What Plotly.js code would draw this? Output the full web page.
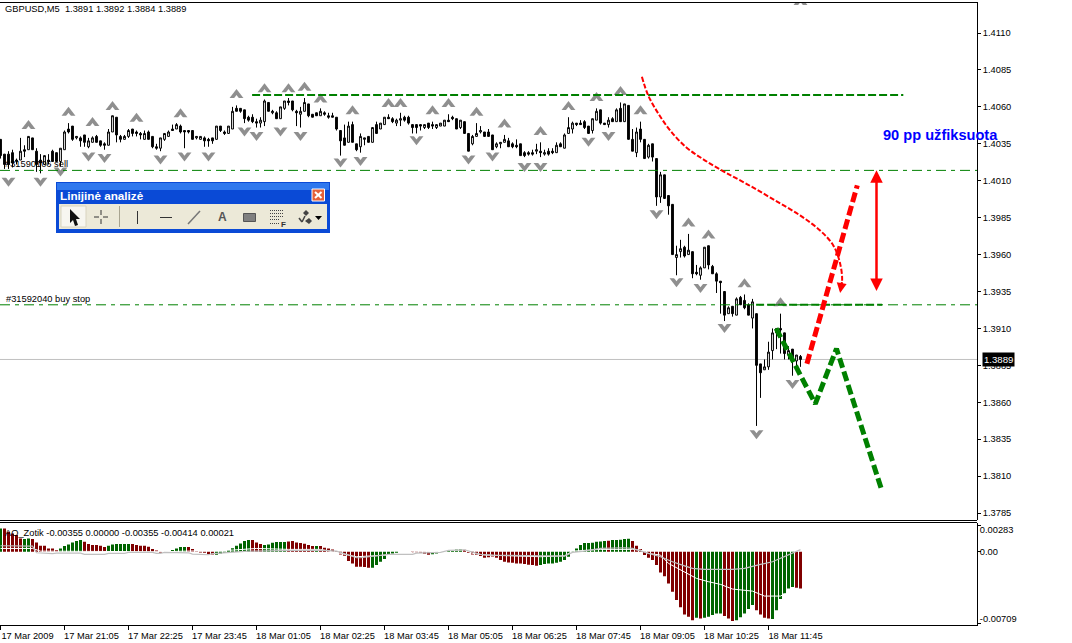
<!DOCTYPE html>
<html><head><meta charset="utf-8">
<script src="https://cdn.plot.ly/plotly-3.0.1.min.js"></script>
<style>html,body{margin:0;padding:0;background:#fff;overflow:hidden}#c{width:1072px;height:643px}</style>
</head><body><div id="c"></div>
<script>
// Prices are stored as pips above 1.0000 (4038 = 1.4038)
const openPips=[4038,4028,4028,4029,4023,4024,4031,4031,4039,4030,
4024,4021,4024,4030,4029,4023,4031,4045,4047,4039,
4039,4041,4033,4036,4040,4037,4035,4034,4043,4053,
4040,4038,4040,4045,4043,4042,4038,4043,4040,4033,
4032,4038,4040,4045,4045,4047,4044,4044,4044,4039,
4038,4039,4038,4039,4038,4047,4043,4042,4045,4059,
4059,4058,4053,4053,4050,4049,4050,4063,4056,4056,
4052,4059,4064,4064,4057,4055,4057,4062,4055,4056,
4054,4056,4054,4054,4053,4044,4039,4036,4048,4035,
4033,4038,4040,4036,4048,4045,4048,4053,4052,4049,
4051,4053,4053,4048,4048,4048,4046,4049,4048,4046,
4047,4047,4051,4053,4052,4046,4050,4042,4035,4040,
4043,4043,4043,4041,4033,4035,4036,4037,4035,4034,
4035,4029,4029,4029,4030,4030,4028,4030,4030,4029,
4035,4032,4042,4045,4049,4049,4050,4047,4044,4051,
4058,4049,4048,4052,4050,4059,4050,4061,4038,4029,
4045,4038,4026,4035,4025,3999,4014,4000,3994,3958,
3962,3965,3960,3962,3948,3946,3951,3966,3952,3947,
3942,3935,3920,3925,3919,3931,3929,3926,3917,3920,
3886,3882,3884,3895,3907,3910,3907,3892,3896,3888,3891];
const highPips=[4038,4028,4030,4031,4025,4039,4034,4040,4039,4032,
4028,4027,4028,4031,4029,4032,4044,4049,4047,4040,
4040,4041,4039,4040,4041,4037,4036,4045,4054,4053,
4041,4041,4045,4045,4044,4043,4044,4044,4040,4035,
4039,4042,4044,4048,4049,4048,4044,4044,4044,4040,
4040,4040,4039,4039,4047,4047,4044,4047,4060,4061,
4059,4058,4054,4055,4052,4053,4065,4063,4058,4057,
4060,4064,4066,4064,4058,4060,4066,4062,4055,4056,
4059,4057,4056,4056,4053,4044,4048,4050,4050,4035,
4042,4039,4040,4046,4050,4049,4053,4055,4053,4052,
4056,4054,4054,4048,4048,4048,4048,4049,4050,4048,
4049,4051,4055,4054,4052,4051,4050,4042,4041,4049,
4047,4043,4045,4041,4036,4036,4041,4039,4036,4038,
4035,4030,4030,4031,4035,4036,4031,4032,4032,4036,
4036,4042,4053,4050,4049,4051,4051,4047,4052,4059,
4058,4049,4053,4053,4059,4063,4062,4061,4045,4046,
4050,4038,4035,4035,4025,4016,4014,4000,3994,3966,
3970,3966,3974,3962,3953,3952,3965,3966,3953,3948,
3942,3935,3925,3925,3931,3932,3933,3927,3930,3920,
3886,3889,3901,3910,3910,3920,3907,3898,3896,3892,3892];
const lowPips=[4025,4018,4018,4019,4021,4024,4026,4031,4031,4016,
4015,4021,4021,4023,4023,4019,4031,4042,4037,4038,
4033,4033,4032,4036,4036,4033,4031,4034,4043,4036,
4036,4038,4039,4040,4040,4038,4038,4038,4032,4031,
4030,4037,4040,4044,4045,4042,4032,4042,4038,4038,
4038,4033,4033,4035,4038,4043,4041,4042,4045,4057,
4056,4049,4050,4049,4046,4046,4047,4057,4055,4052,
4052,4058,4061,4057,4047,4046,4057,4053,4053,4054,
4054,4054,4052,4053,4044,4027,4034,4036,4036,4030,
4029,4034,4036,4036,4042,4045,4048,4052,4049,4047,
4047,4050,4048,4042,4042,4044,4045,4045,4045,4045,
4047,4047,4050,4051,4045,4045,4042,4030,4034,4040,
4042,4040,4040,4031,4032,4032,4036,4033,4032,4032,
4027,4026,4027,4027,4028,4026,4027,4027,4028,4029,
4033,4032,4042,4042,4047,4048,4045,4042,4042,4051,
4048,4048,4046,4050,4050,4050,4050,4038,4030,4026,
4036,4025,4025,4023,3993,3995,3998,3987,3960,3946,
3958,3958,3960,3944,3946,3943,3951,3950,3947,3934,
3920,3915,3920,3918,3919,3926,3923,3919,3910,3844,
3863,3882,3882,3889,3896,3893,3889,3889,3878,3884,3884];
const closePips=[4027,4021,4021,4022,4024,4030,4030,4040,4031,4021,
4022,4027,4023,4023,4023,4032,4043,4043,4038,4040,
4037,4036,4037,4039,4036,4034,4034,4043,4054,4041,
4038,4040,4044,4042,4042,4041,4042,4038,4033,4032,
4039,4042,4043,4044,4048,4043,4043,4043,4038,4040,
4040,4037,4037,4037,4047,4044,4042,4047,4057,4057,
4057,4052,4051,4050,4049,4051,4064,4057,4057,4052,
4060,4064,4063,4058,4056,4057,4063,4054,4053,4054,
4057,4055,4053,4053,4045,4037,4034,4047,4036,4031,
4040,4039,4036,4046,4042,4049,4053,4052,4050,4051,
4052,4051,4049,4046,4046,4047,4048,4046,4047,4048,
4049,4051,4050,4052,4045,4051,4042,4030,4040,4042,
4044,4040,4040,4031,4035,4036,4038,4033,4033,4033,
4027,4027,4028,4028,4031,4029,4029,4028,4029,4034,
4033,4041,4046,4049,4048,4048,4046,4042,4052,4057,
4049,4048,4051,4050,4058,4050,4062,4038,4030,4043,
4038,4025,4034,4026,3999,4014,3998,3993,3960,3960,
3964,3959,3963,3947,3947,3951,3965,3953,3947,3942,
3941,3919,3924,3920,3930,3926,3924,3919,3928,3885,
3880,3884,3894,3907,3910,3909,3893,3895,3888,3892,3889];

// Fractal marks: bar index and price
const fractalUpBar=[7,17,23,28,34,45,59,66,72,76,80,88,97,100,108,112,119,126,135,142,149,155,160,172,177,186,195,200];
const fractalUpPips=[4047,4056,4049,4060,4052,4055,4068,4072,4072,4073,4065,4057,4062,4062,4057,4062,4056,4048,4043,4060,4066,4070,4057,3981,3973,3940,3927,4131];
const fractalDownBar=[2,10,15,22,26,40,46,52,61,64,70,75,85,90,104,117,123,131,135,147,152,164,169,175,181,198,189];
const fractalDownPips=[4010,4010,4017,4027,4026,4025,4027,4027,4044,4041,4044,4041,4023,4024,4038,4025,4027,4020,4020,4037,4041,3988,3942,3938,3911,3873,3839];

// AO_Zotik histogram
const aoValues=[.00226,.00226,.00194,.00177,.00161,.00129,.00123,.00129,.00123,.00090,
.00058,.00058,.00032,.00032,.00016,.00032,.00055,.00071,.00090,.00103,
.00113,.00097,.00074,.00065,.00065,.00058,.00045,.00058,.00071,.00074,
.00074,.00074,.00074,.00074,.00065,.00058,.00058,.00048,.00026,.00013,
-.00010,0,0,.00016,.00032,.00045,.00045,.00045,.00026,.00006,
-.00006,-.00010,-.00023,-.00026,-.00029,-.00016,-.00010,.00016,.00035,.00058,
.00081,.00103,.00113,.00113,.00090,.00074,.00065,.00071,.00087,.00094,
.00094,.00094,.00100,.00103,.00090,.00084,.00077,.00065,.00055,.00055,
.00055,.00039,.00032,.00023,.00006,-.00026,-.00039,-.00090,-.00113,-.00145,
-.00145,-.00148,-.00155,-.00155,-.00129,-.00097,-.00071,-.00032,-.00016,-.00010,
0,0,0,-.00010,-.00010,-.00013,-.00019,-.00029,-.00023,-.00016,
0,0,.00010,.00016,.00023,.00026,.00019,-.00010,-.00026,-.00032,
-.00042,-.00058,-.00052,-.00045,-.00058,-.00081,-.00097,-.00103,-.00106,-.00113,
-.00113,-.00119,-.00126,-.00129,-.00136,-.00129,-.00119,-.00113,-.00113,-.00106,
-.00097,-.00081,-.00048,.00006,.00032,.00065,.00084,.00084,.00087,.00097,
.00100,.00103,.00106,.00113,.00113,.00116,.00123,.00126,.00103,.00058,
.00026,-.00032,-.00058,-.00081,-.00129,-.00200,-.00236,-.00307,-.00387,-.00468,
-.00536,-.00607,-.00629,-.00662,-.00639,-.00645,-.00639,-.00629,-.00613,-.00597,
-.00597,-.00623,-.00645,-.00671,-.00662,-.00633,-.00597,-.00555,-.00516,-.00565,
-.00607,-.00639,-.00645,-.00652,-.00565,-.00458,-.00403,-.00355,-.00342,-.00349,-.00355];
const aoColorFlags=("g"+"rrrrr"+"gg"+"rrrrrrr"+"gggggg"+"rrrrrr"+"gggggg"+"rrrrrrrr"+"gggggg"+"rrrrrrr"+"ggggggggg"+"rrr"+"gggggg"+"rrrrrrr"+"g"+"rrrrrrrrrrrrr"+"gggggggggg"+"rrrrr"+"gggggggg"+"rrrrrrrrrrrrrrrrrrr"+"ggggggggggggggggg"+"r"+"ggggg"+"rrrrrrrrrrrrrrrr"+"g"+"r"+"ggggg"+"rrr"+"ggggg"+"rrrr"+"gggggg"+"rr").split("");

// Indicator lines, read at the bars where they bend
const signalBar=[0,8,9,13,14,20,21,26,27,31,32,38,39,40,41,47,48,52,53,57,61,62,70,80,84,85,87,89,90,94,97,103,104,110,112,116,118,120,123,135,141,143,146,150,156,158,160,162,165,168,171,173,176,183,186,188,190,193,195,197,200];
const signalValues=[.00058,.00055,-.00010,-.00019,-.00013,-.00013,-.00026,-.00026,-.00016,-.00016,-.00006,-.00006,-.00016,-.00016,-.00006,-.00010,-.00023,-.00029,-.00019,-.00006,0,.00006,.00010,.00016,.00006,-.00006,-.00032,-.00058,-.00058,-.00039,-.00026,-.00026,-.00013,-.00006,.00013,.00019,0,-.00026,-.00032,-.00042,-.00042,-.00006,.00006,.00032,.00039,.00032,.00006,-.00016,-.00048,-.00097,-.00136,-.00161,-.00171,-.00171,-.00161,-.00145,-.00123,-.00097,-.00065,-.00026,.00021];
const mainBar=[0,8,10,40,58,64,72,80,85,89,97,103,110,116,118,121,135,141,143,150,158,160,162,165,167,171,174,177,180,183,188,191,195,196,200];
const mainValues=[.00032,.00032,.00006,0,.00016,.00032,.00023,.00023,-.00016,-.00048,-.00032,-.00006,.00006,.00019,-.00016,-.00032,-.00048,-.00039,.00006,.00023,.00023,.00016,-.00016,-.00032,-.00113,-.00194,-.00258,-.00290,-.00316,-.00361,-.00381,-.00429,-.00429,-.00407,-.00414];

// Hand-drawn objects on the chart
const highLineBars=[62.9,225.7], highLinePrice=[1.4068,1.4068];
const sellStopPrice=[1.4017,1.4017], buyStopPrice=[1.3926,1.3926], fullSpan=[-0.125,244.125];
const buyThickBars=[188.9,220.4];
const redThickBars=[201.6,214.2], redThickPrices=[1.38861,1.40069];
const greenBars=[193.9,203.7,209,220.3], greenPrices=[1.3910,1.38590,1.38963,1.38006];
const curveBars=[160.35,161.9,164.4,167.4,171.4,175.7,180.7,186.7,193.2,199.9,204.9,208.2,209.9,210.4,209.9];
const curvePrices=[1.40804,1.40679,1.40557,1.40441,1.40327,1.40245,1.40164,1.40076,1.39974,1.39865,1.39763,1.39662,1.39540,1.39424,1.39360];
const bidPrice=1.3889;
const rangeBar=219, rangeTop=1.40171, rangeBottom=1.39343;

// Axis labels
const timeTickBars=[0,16,32,48,64,80,96,112,128,144,160,176,192];
const timeTickLabels=["17 Mar 2009","17 Mar 21:05","17 Mar 22:25","17 Mar 23:45","18 Mar 01:05","18 Mar 02:25","18 Mar 03:45","18 Mar 05:05","18 Mar 06:25","18 Mar 07:45","18 Mar 09:05","18 Mar 10:25","18 Mar 11:45"];
const priceTicks=[1.4110,1.4085,1.4060,1.4035,1.4010,1.3985,1.3960,1.3935,1.3910,1.3885,1.3860,1.3835,1.3810,1.3785];
const aoLabelPos=[0.00213,0,-0.00645], aoLabels=["0.00283","0.00","-0.00709"], aoTickMarks=[0.00252,0,-0.00697];

const price=v=>(10000+v)/10000;
const bars=openPips.map((_,i)=>i);
const FONT='"Liberation Sans",Arial,sans-serif';
const FS=9.3;
const black='#000', GREEN='#008000', RED='#ff0000', GREY='#8f8f8f';
const notchOff=0.00020;

const traces=[
 {type:'candlestick',x:bars,open:openPips.map(price),high:highPips.map(price),low:lowPips.map(price),close:closePips.map(price),
  whiskerwidth:0,increasing:{line:{color:black,width:1},fillcolor:'#fff'},decreasing:{line:{color:black,width:1},fillcolor:black},xaxis:'x',yaxis:'y',showlegend:false,hoverinfo:'skip'},
 {type:'scatter',mode:'markers',x:fractalUpBar,y:fractalUpPips.map(price),marker:{symbol:'triangle-up',size:12,color:GREY},hoverinfo:'skip'},
 {type:'scatter',mode:'markers',x:fractalUpBar,y:fractalUpPips.map(v=>price(v)-notchOff),marker:{symbol:'triangle-up',size:6,color:'#fff'},hoverinfo:'skip'},
 {type:'scatter',mode:'markers',x:fractalDownBar,y:fractalDownPips.map(price),marker:{symbol:'triangle-down',size:12,color:GREY},hoverinfo:'skip'},
 {type:'scatter',mode:'markers',x:fractalDownBar,y:fractalDownPips.map(v=>price(v)+notchOff),marker:{symbol:'triangle-down',size:6,color:'#fff'},hoverinfo:'skip'},
 {type:'scatter',mode:'lines',x:fullSpan,y:sellStopPrice,line:{color:GREEN,width:1,dash:'10px,5px,4px,5px'},hoverinfo:'skip'},
 {type:'scatter',mode:'lines',x:fullSpan,y:buyStopPrice,line:{color:GREEN,width:1,dash:'10px,5px,4px,5px'},hoverinfo:'skip'},
 {type:'scatter',mode:'lines',x:highLineBars,y:highLinePrice,line:{color:GREEN,width:2,dash:'8px,3px'},hoverinfo:'skip'},
 {type:'scatter',mode:'lines',x:buyThickBars,y:buyStopPrice,line:{color:GREEN,width:2,dash:'8px,3px'},hoverinfo:'skip'},
 {type:'scatter',mode:'lines',x:curveBars,y:curvePrices,line:{color:RED,width:2,dash:'5px,2px',shape:'spline',smoothing:1},hoverinfo:'skip'},
 {type:'scatter',mode:'lines',x:redThickBars,y:redThickPrices,line:{color:RED,width:5,dash:'10px,4px'},hoverinfo:'skip'},
 {type:'scatter',mode:'lines',x:greenBars,y:greenPrices,line:{color:GREEN,width:5,dash:'10px,4px'},hoverinfo:'skip'},
 {type:'bar',x:bars,y:aoValues,marker:{color:aoColorFlags.map(c=>c==='g'?'#006400':'#800000'),line:{width:0}},width:0.75,xaxis:'x',yaxis:'y2',hoverinfo:'skip'},
 {type:'scatter',mode:'lines',x:mainBar,y:mainValues,line:{color:'#fff',width:1},xaxis:'x',yaxis:'y2',hoverinfo:'skip'},
 {type:'scatter',mode:'lines',x:signalBar,y:signalValues,line:{color:'#c0c0c0',width:1.2},xaxis:'x',yaxis:'y2',hoverinfo:'skip'}
];

// pixel -> paper helpers for the toolbar window chrome
const PX=x=>x/977, PY=y=>(625-y)/623;
const rect=(x0,y0,x1,y1,fill,line,w)=>({type:'rect',xref:'paper',yref:'paper',x0:PX(x0),x1:PX(x1),y0:PY(y0),y1:PY(y1),fillcolor:fill,line:{color:line||fill,width:w===undefined?0:w},layer:'above'});
const seg=(x0,y0,x1,y1,c,w,dash)=>({type:'line',xref:'paper',yref:'paper',x0:PX(x0),x1:PX(x1),y0:PY(y0),y1:PY(y1),line:{color:c,width:w||1,dash:dash||'solid'},layer:'above'});
const poly=(pts,fill,line)=>({type:'path',xref:'paper',yref:'paper',path:pts.map((p,i)=>(i?'L':'M')+PX(p[0])+','+PY(p[1])).join(' ')+' Z',fillcolor:fill,line:{color:line||fill,width:line?1:0},layer:'above'});

const shapes=[
 {type:'line',xref:'paper',yref:'y',x0:0,x1:1,y0:bidPrice,y1:bidPrice,line:{color:'#c0c0c0',width:1},layer:'below'},
 seg(0,2.5,977,2.5,black,1),
 seg(0,520.5,977,520.5,black,1),
 seg(0,522.5,977,522.5,black,1),
 // toolbar
 rect(56,182,330,233,'#0a4ad6'),
 rect(57,183,329,190,'#2f78ee'),
 rect(59,204,327,229,'#ece9d8'),
 rect(61,206,86,227,'#f7f6f0','#d8d4c0',1),
 poly([[70,209],[70,223],[73,220],[75,226],[78,225],[76,219],[80,219]],'#111'),
 seg(94,217,99,217,'#333',1), seg(103,217,108,217,'#333',1),
 seg(101,210,101,215,'#333',1), seg(101,219,101,224,'#333',1),
 seg(119.5,206,119.5,227,'#a8a490',1),
 seg(137.5,211,137.5,224,'#333',1),
 seg(160,217.5,172,217.5,'#333',1),
 seg(188,224,200,211,'#777',1.5),
 rect(243.5,213.5,255.5,221.5,'#808080','#555',1),
 seg(270,210.5,284,210.5,'#444',1,'1px,1px'),seg(270,213.5,284,213.5,'#444',1,'1px,1px'),
 seg(270,216.5,284,216.5,'#444',1,'1px,1px'),seg(270,219.5,279,219.5,'#444',1,'1px,1px'),
 seg(270,223.5,279,223.5,'#444',1,'1px,1px'),
 poly([[303,213],[306,210],[309,213],[306,216]],'#444'),
 poly([[305,221],[309,218],[312,221],[309,224]],'#444'),
 seg(299,218,302,222,'#444',1.5), seg(302,222,305,216,'#444',1.5),
 poly([[315,216],[322,216],[318.5,220]],'#000'),
 rect(312,189,324.5,201,'#e5603a','#fff',1),
 seg(315,192,321.5,198,'#fff',2), seg(321.5,192,315,198,'#fff',2)
];

const txt=(x,y,t,opts)=>Object.assign({xref:'paper',yref:'paper',x:PX(x),y:PY(y),text:t,showarrow:false,xanchor:'left',yanchor:'middle',font:{family:FONT,size:FS,color:black},borderpad:0},opts||{});
const annotations=[
 txt(4,9,"GBPUSD,M5  1.3891 1.3892 1.3884 1.3889"),
 txt(4,164,"#31590106 sell"),
 txt(5,299,"#31592040 buy stop"),
 txt(4,533,"AO_Zotik -0.00355 0.00000 -0.00355 -0.00414 0.00021"),
 txt(882,135,"90 pp užfiksuota",{font:{family:FONT,size:14.6,color:'#0000ff',weight:700}}),
 txt(59,195,"Linijinė analizė",{font:{family:FONT,size:11.7,color:'#fff',weight:700}}),
 txt(217,217,"A",{font:{family:FONT,size:12,color:'#555',weight:700}}),
 txt(280,224,"F",{font:{family:FONT,size:8,color:'#333',weight:700}}),
 txt(982,359,"1.3889",{bgcolor:'#000',font:{family:FONT,size:9.6,color:'#fff'},borderpad:1}),
 {xref:'x',yref:'y',axref:'x',ayref:'y',x:rangeBar,y:rangeTop,ax:rangeBar,ay:rangeBottom,text:'',showarrow:true,arrowside:'end+start',arrowhead:2,arrowsize:1,arrowwidth:2.5,arrowcolor:RED},
 {xref:'x',yref:'y',axref:'x',ayref:'y',x:curveBars[14],y:1.3934,ax:curveBars[13],ay:curvePrices[13],text:'',showarrow:true,arrowhead:2,arrowsize:1,arrowwidth:2,arrowcolor:RED}
];

const tf={family:FONT,size:FS,color:black};
const layout={
 width:1072,height:643,autosize:false,showlegend:false,paper_bgcolor:'#fff',plot_bgcolor:'#fff',
 margin:{l:0,r:95,t:2,b:18,pad:0},boxgap:0.35,barmode:'overlay',dragmode:false,
 font:{family:FONT,size:FS,color:black},
 xaxis:{type:'linear',anchor:'y2',range:fullSpan,rangeslider:{visible:false},showgrid:false,zeroline:false,showline:true,linecolor:black,linewidth:1,
   tickmode:'array',tickvals:timeTickBars,ticktext:timeTickLabels,ticks:'outside',ticklen:4,tickcolor:black,tickwidth:1,ticklabelshift:27,ticklabelstandoff:-2,tickangle:0,tickfont:tf},
 yaxis:{domain:[0.1685,1],range:[1.37803,1.41310],side:'right',anchor:'x',showgrid:false,zeroline:false,showline:true,linecolor:black,linewidth:1,
   tickmode:'array',tickvals:priceTicks,ticktext:priceTicks.map(v=>v.toFixed(4)),ticks:'outside',ticklen:3,tickcolor:black,tickfont:tf},
 yaxis2:{domain:[0,0.1645],range:[-0.00709,0.00283],side:'right',anchor:'x',showgrid:false,zeroline:false,showline:true,linecolor:black,linewidth:1,
   tickmode:'array',tickvals:aoLabelPos,ticktext:aoLabels,ticks:'',ticklen:3,tickcolor:black,tickfont:tf,
   minor:{tickmode:'array',tickvals:aoTickMarks,ticks:'outside',ticklen:3,tickcolor:black,showgrid:false}},
 shapes,annotations
};
Plotly.newPlot('c',traces,layout,{displayModeBar:false,staticPlot:true});
</script></body></html>
